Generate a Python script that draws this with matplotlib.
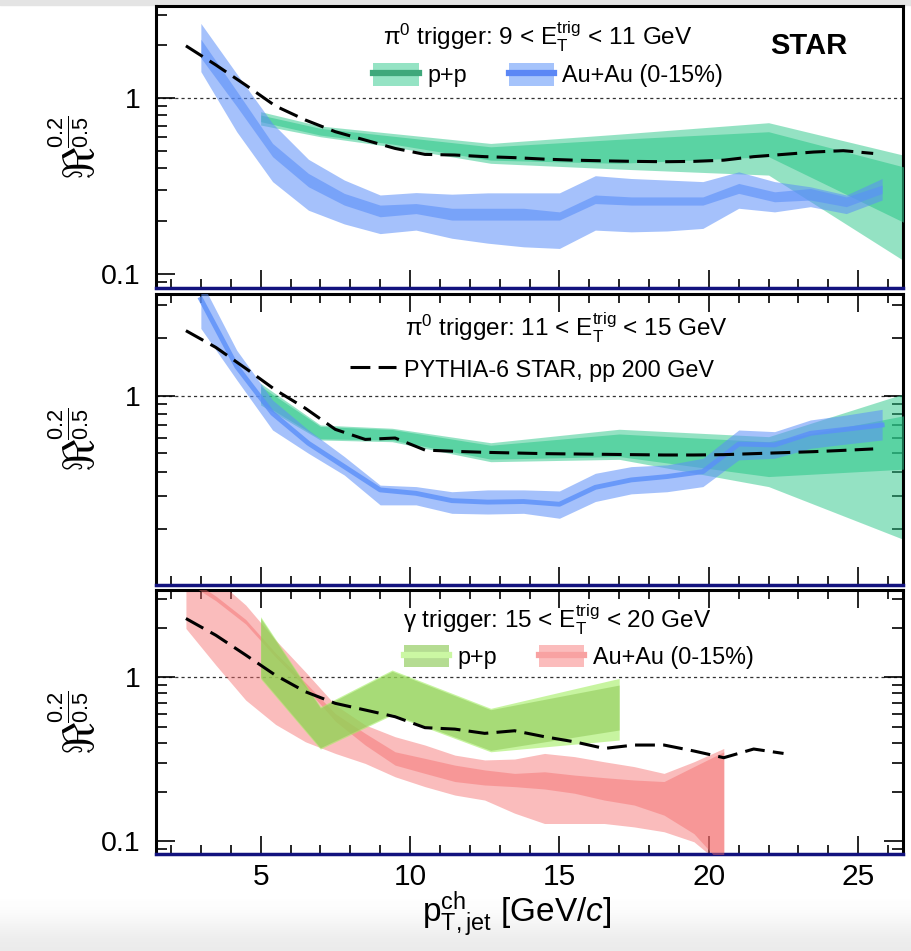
import numpy as np
import matplotlib
matplotlib.use("Agg")
import matplotlib.pyplot as plt
from matplotlib.patches import Patch, Rectangle
from matplotlib.lines import Line2D
from matplotlib.colors import LinearSegmentedColormap
from matplotlib.ticker import LogLocator, MultipleLocator, NullFormatter, FuncFormatter

plt.rcParams["font.family"] = ["Liberation Sans", "DejaVu Sans"]
plt.rcParams["mathtext.fontset"] = "custom"
plt.rcParams["mathtext.rm"] = "Liberation Sans"
plt.rcParams["mathtext.it"] = "Liberation Sans:italic"
plt.rcParams["mathtext.bf"] = "Liberation Sans:bold"

# PYTHIA-6 curves (dashed)
x_py = [2.5, 3.5, 4.5, 5.5, 6.5, 7.5, 8.5, 9.5, 10.5, 11.5, 12.5, 13.5,
        14.5, 15.5, 16.5, 17.5, 18.5, 19.5, 20.5, 21.5, 22.5, 23.5, 24.5, 25.5]
py1 = [1.99, 1.55, 1.19, 0.904, 0.753, 0.646, 0.579, 0.519, 0.48, 0.476, 0.466, 0.46,
       0.451, 0.445, 0.441, 0.438, 0.436, 0.438, 0.445, 0.466, 0.48, 0.495, 0.504, 0.486]
py2 = [2.19, 1.79, 1.39, 1.07, 0.858, 0.666, 0.59, 0.60, 0.519, 0.511, 0.505, 0.501,
       0.497, 0.495, 0.493, 0.491, 0.489, 0.489, 0.491, 0.497, 0.503, 0.509, 0.517, 0.526]
x_py3 = [2.5, 3.5, 4.5, 5.5, 6.5, 7.5, 8.5, 9.5, 10.5, 11.5, 12.5, 13.5,
         14.5, 15.5, 16.5, 17.5, 18.5, 19.5, 20.5, 21.5, 22.5]
py3 = [2.29, 1.81, 1.37, 1.03, 0.817, 0.694, 0.632, 0.575, 0.493, 0.483, 0.455, 0.472,
       0.434, 0.404, 0.368, 0.386, 0.386, 0.355, 0.323, 0.365, 0.343]

# pi0 triggered Au+Au (blue)
x_aa = [3.0, 4.2, 5.4, 6.6, 7.8, 9.0, 10.2, 11.4, 12.6, 13.8,
        15.0, 16.2, 17.4, 18.6, 19.8, 21.0, 22.2, 23.4, 24.6, 25.8]
aa1_sys_hi = [2.67, 1.38, 0.72, 0.450, 0.343, 0.282, 0.291, 0.285, 0.290, 0.290,
              0.290, 0.363, 0.350, 0.343, 0.336, 0.382, 0.336, 0.314, 0.282, 0.350]
aa1_sys_lo = [1.42, 0.646, 0.336, 0.231, 0.193, 0.170, 0.178, 0.160, 0.150, 0.143,
              0.140, 0.178, 0.174, 0.176, 0.182, 0.237, 0.226, 0.242, 0.221, 0.264]
aa1_st_hi = [2.17, 1.10, 0.554, 0.374, 0.288, 0.247, 0.252, 0.237, 0.237, 0.237,
             0.226, 0.282, 0.275, 0.275, 0.275, 0.328, 0.294, 0.307, 0.275, 0.321]
aa1_st_lo = [1.70, 0.90, 0.466, 0.314, 0.247, 0.212, 0.221, 0.203, 0.203, 0.203,
             0.203, 0.252, 0.247, 0.247, 0.247, 0.288, 0.258, 0.264, 0.242, 0.288]

aa2_hi = [4.0, 1.73, 0.949, 0.661, 0.480, 0.340, 0.334, 0.314, 0.321, 0.321,
          0.317, 0.392, 0.425, 0.434, 0.470, 0.661, 0.648, 0.746, 0.792, 0.848]
aa2_lo = [2.25, 1.21, 0.661, 0.499, 0.384, 0.268, 0.268, 0.242, 0.240, 0.242,
          0.228, 0.279, 0.306, 0.314, 0.334, 0.461, 0.470, 0.530, 0.558, 0.586]
aa2_mid = [3.2, 1.42, 0.808, 0.563, 0.425, 0.321, 0.308, 0.282, 0.277, 0.279,
           0.270, 0.331, 0.362, 0.377, 0.400, 0.558, 0.552, 0.635, 0.667, 0.702]

# p+p (green)
x_pp = [5.0, 7.0, 9.4, 12.7, 17.0, 22.0, 27.0]
pp1_sys_hi = [0.84, 0.696, 0.632, 0.554, 0.626, 0.727, 0.454]
pp1_sys_lo = [0.705, 0.605, 0.530, 0.427, 0.396, 0.366, 0.106]
pp1_st_hi = [0.804, 0.675, 0.61, 0.530, 0.585, 0.646, 0.388]
pp1_st_lo = [0.737, 0.618, 0.55, 0.445, 0.427, 0.466, 0.180]

pp2_sys_hi = [1.16, 0.702, 0.675, 0.567, 0.667, 0.610, 1.08]
pp2_sys_lo = [0.894, 0.586, 0.574, 0.451, 0.464, 0.334, 0.165]
pp2_st_hi = [1.12, 0.69, 0.665, 0.55, 0.630, 0.574, 0.811]
pp2_st_lo = [0.92, 0.595, 0.585, 0.465, 0.480, 0.377, 0.416]

# gamma triggered
x_aa3 = [2.5, 3.5, 4.5, 5.5, 6.5, 7.5, 8.5, 9.5, 10.5, 11.5,
         12.5, 13.5, 14.5, 15.5, 16.5, 17.5, 18.5, 19.5, 20.5]
aa3_sys_hi = [4.5, 4.0, 2.77, 1.69, 1.08, 0.678, 0.512, 0.434, 0.386, 0.335,
              0.313, 0.317, 0.343, 0.328, 0.305, 0.285, 0.259, 0.305, 0.368]
aa3_sys_lo = [1.99, 1.19, 0.727, 0.516, 0.404, 0.343, 0.298, 0.247, 0.215, 0.191,
              0.178, 0.148, 0.128, 0.128, 0.128, 0.122, 0.114, 0.099, 0.07]
aa3_st_hi = [4.15, 3.14, 2.26, 1.41, 0.93, 0.60, 0.455, 0.351, 0.320, 0.291,
             0.272, 0.259, 0.265, 0.253, 0.244, 0.236, 0.231, 0.285, 0.351]
aa3_st_lo = [3.85, 2.94, 2.12, 1.33, 0.87, 0.54, 0.386, 0.291, 0.259, 0.231,
             0.220, 0.215, 0.208, 0.196, 0.178, 0.166, 0.144, 0.111, 0.07]

x_pp3 = [5.0, 7.0, 9.4, 12.7, 17.0]
pp3_sys_hi = [2.35, 0.662, 1.11, 0.647, 0.986]
pp3_sys_lo = [0.98, 0.365, 0.589, 0.351, 0.414]
pp3_st_hi = [2.30, 0.65, 1.09, 0.635, 0.898]
pp3_st_lo = [1.0, 0.372, 0.60, 0.358, 0.477]

BLUE = "#5b8ff9"
GREEN = "#2bc789"
RED = "#f56b6b"
LIME = "#a3ee61"
LIME_D = "#88c44f"


def band(ax, x, lo, hi, color, alpha, z):
    ax.fill_between(x, lo, hi, color=color, alpha=alpha, lw=0, zorder=z)


def pythia(ax, x, y):
    ax.plot(x, y, color="black", lw=2.2, dashes=(6.5, 2.7), zorder=10)


fig = plt.figure(figsize=(9.12, 9.51), dpi=100)

# light grey edges of the original screenshot
fig.patches.append(Rectangle((0, 1 - 5 / 951), 1, 5 / 951, transform=fig.transFigure,
                             color="#e4e4e4", zorder=-5))
bg = fig.add_axes([0.0, 0.0, 1.0, 0.055], zorder=-10)
bg.imshow([[1.0], [0.0]], aspect="auto", interpolation="bicubic",
          cmap=LinearSegmentedColormap.from_list("g", ["#ebebeb", "#ffffff"]),
          extent=(0, 1, 0, 1))
bg.axis("off")

ax1 = fig.add_axes([0.1711, 0.6968, 0.8191, 0.2968])
ax2 = fig.add_axes([0.1711, 0.3849, 0.8191, 0.3060])
ax3 = fig.add_axes([0.1711, 0.1017, 0.8191, 0.2779])
axes = [ax1, ax2, ax3]
ylims = [(0.083, 3.35), (0.102, 3.41), (0.083, 3.42)]

# panel 1
band(ax1, x_pp, pp1_sys_lo, pp1_sys_hi, GREEN, 0.5, 2)
band(ax1, x_pp, pp1_st_lo, pp1_st_hi, GREEN, 0.55, 3)
band(ax1, x_aa, aa1_sys_lo, aa1_sys_hi, BLUE, 0.55, 4)
band(ax1, x_aa, aa1_st_lo, aa1_st_hi, BLUE, 0.6, 5)
pythia(ax1, x_py, py1)

# panel 2
band(ax2, x_pp, pp2_sys_lo, pp2_sys_hi, GREEN, 0.5, 2)
band(ax2, x_pp, pp2_st_lo, pp2_st_hi, GREEN, 0.55, 3)
band(ax2, x_aa, aa2_lo, aa2_hi, BLUE, 0.55, 4)
ax2.plot(x_aa, aa2_mid, color=BLUE, lw=3.5, alpha=0.8, zorder=5)
pythia(ax2, x_py, py2)

# panel 3
band(ax3, x_aa3, aa3_sys_lo, aa3_sys_hi, RED, 0.45, 2)
band(ax3, x_aa3, aa3_st_lo, aa3_st_hi, RED, 0.45, 3)
band(ax3, x_pp3, pp3_sys_lo, pp3_sys_hi, LIME, 0.6, 4)
band(ax3, x_pp3, pp3_st_lo, pp3_st_hi, LIME_D, 0.5, 5)
pythia(ax3, x_py3, py3)

for i, ax in enumerate(axes):
    ax.set_yscale("log")
    ax.set_xlim(1.5, 26.5)
    ax.set_ylim(*ylims[i])
    ax.axhline(1.0, color="#333333", lw=0.9, ls=(0, (2.5, 2.5)), zorder=1)
    ax.xaxis.set_major_locator(MultipleLocator(5))
    ax.xaxis.set_minor_locator(MultipleLocator(1))
    ax.yaxis.set_major_locator(LogLocator(base=10, subs=(1.0,)))
    ax.yaxis.set_minor_locator(LogLocator(base=10, subs=np.arange(2, 10)))
    ax.yaxis.set_minor_formatter(NullFormatter())
    ax.yaxis.set_major_formatter(FuncFormatter(lambda v, p: f"{v:g}"))
    both = i > 0
    ax.tick_params(axis="x", which="major", direction="in", length=13, width=1.2,
                   top=both, bottom=True, labelsize=21.5, pad=6)
    ax.tick_params(axis="x", which="minor", direction="in", length=6.5, width=1.2,
                   top=both, bottom=True)
    ax.tick_params(axis="y", which="major", direction="in", length=14, width=1.2,
                   right=both, left=True, labelsize=20.5, pad=11)
    ax.tick_params(axis="y", which="minor", direction="in", length=8, width=1.2,
                   right=both, left=True)
    for s in ["left", "right", "top"]:
        ax.spines[s].set_linewidth(2.2)
    ax.spines["bottom"].set_linewidth(2.5)
    ax.spines["bottom"].set_color("#12127e")
    ax.set_ylabel(r"$\Re^{\frac{0.2}{0.5}}$", fontsize=32, va="center")
    ax.yaxis.set_label_coords(-0.104, 0.5)
    if i < 2:
        ax.tick_params(axis="x", labelbottom=False)

# texts
ax1.text(0.5107, 0.862, r"π$^{0}$ trigger: 9 < $\mathrm{E}_{\mathrm{T}}^{\mathrm{trig}}$ < 11 GeV",
         transform=ax1.transAxes, ha="center", va="baseline", fontsize=17.5)
ax2.text(0.549, 0.853, r"π$^{0}$ trigger: 11 < $\mathrm{E}_{\mathrm{T}}^{\mathrm{trig}}$ < 15 GeV",
         transform=ax2.transAxes, ha="center", va="baseline", fontsize=17.5)
ax3.text(0.5366, 0.855, r"γ trigger: 15 < $\mathrm{E}_{\mathrm{T}}^{\mathrm{trig}}$ < 20 GeV",
         transform=ax3.transAxes, ha="center", va="baseline", fontsize=17.5)
ax1.text(0.8745, 0.832, "STAR", transform=ax1.transAxes, ha="center", va="baseline",
         fontsize=21, fontweight="bold")

leg_kw = dict(frameon=False, fontsize=16.8, handlelength=1.95, handleheight=1.1,
              handletextpad=0.35, columnspacing=1.8, borderpad=0, borderaxespad=0,
              loc="center left")
h_pp = (Patch(fc="#95e3c4", ec="none"), Line2D([], [], color="#3fa87b", lw=4.5))
h_aa = (Patch(fc="#a5c3fb", ec="none"), Line2D([], [], color="#5b87f5", lw=4.5))
ax1.legend([h_pp, h_aa], ["p+p", "Au+Au (0-15%)"], ncol=2,
           bbox_to_anchor=(0.291, 0.755), **leg_kw)

h_py = Line2D([], [], color="black", lw=2.2, dashes=(6.5, 2.7))
ax2.legend([h_py], ["PYTHIA-6 STAR, pp 200 GeV"], bbox_to_anchor=(0.260, 0.739), **leg_kw)

h_pp3 = (Patch(fc="#b5dc92", ec="none"), Line2D([], [], color="#cbf7a3", lw=4.5))
h_aa3 = (Patch(fc="#fbbcbc", ec="none"), Line2D([], [], color="#f8a2a2", lw=4.5))
ax3.legend([h_pp3, h_aa3], ["p+p", "Au+Au (0-15%)"], ncol=2,
           bbox_to_anchor=(0.3315, 0.746), **leg_kw)

fig.text(0.567, 0.031, r"$\mathrm{p}_{\mathrm{T,jet}}^{\mathrm{ch}}$ [GeV/$c$]",
         ha="center", va="baseline", fontsize=24)

fig.savefig("out.png", dpi=100)
